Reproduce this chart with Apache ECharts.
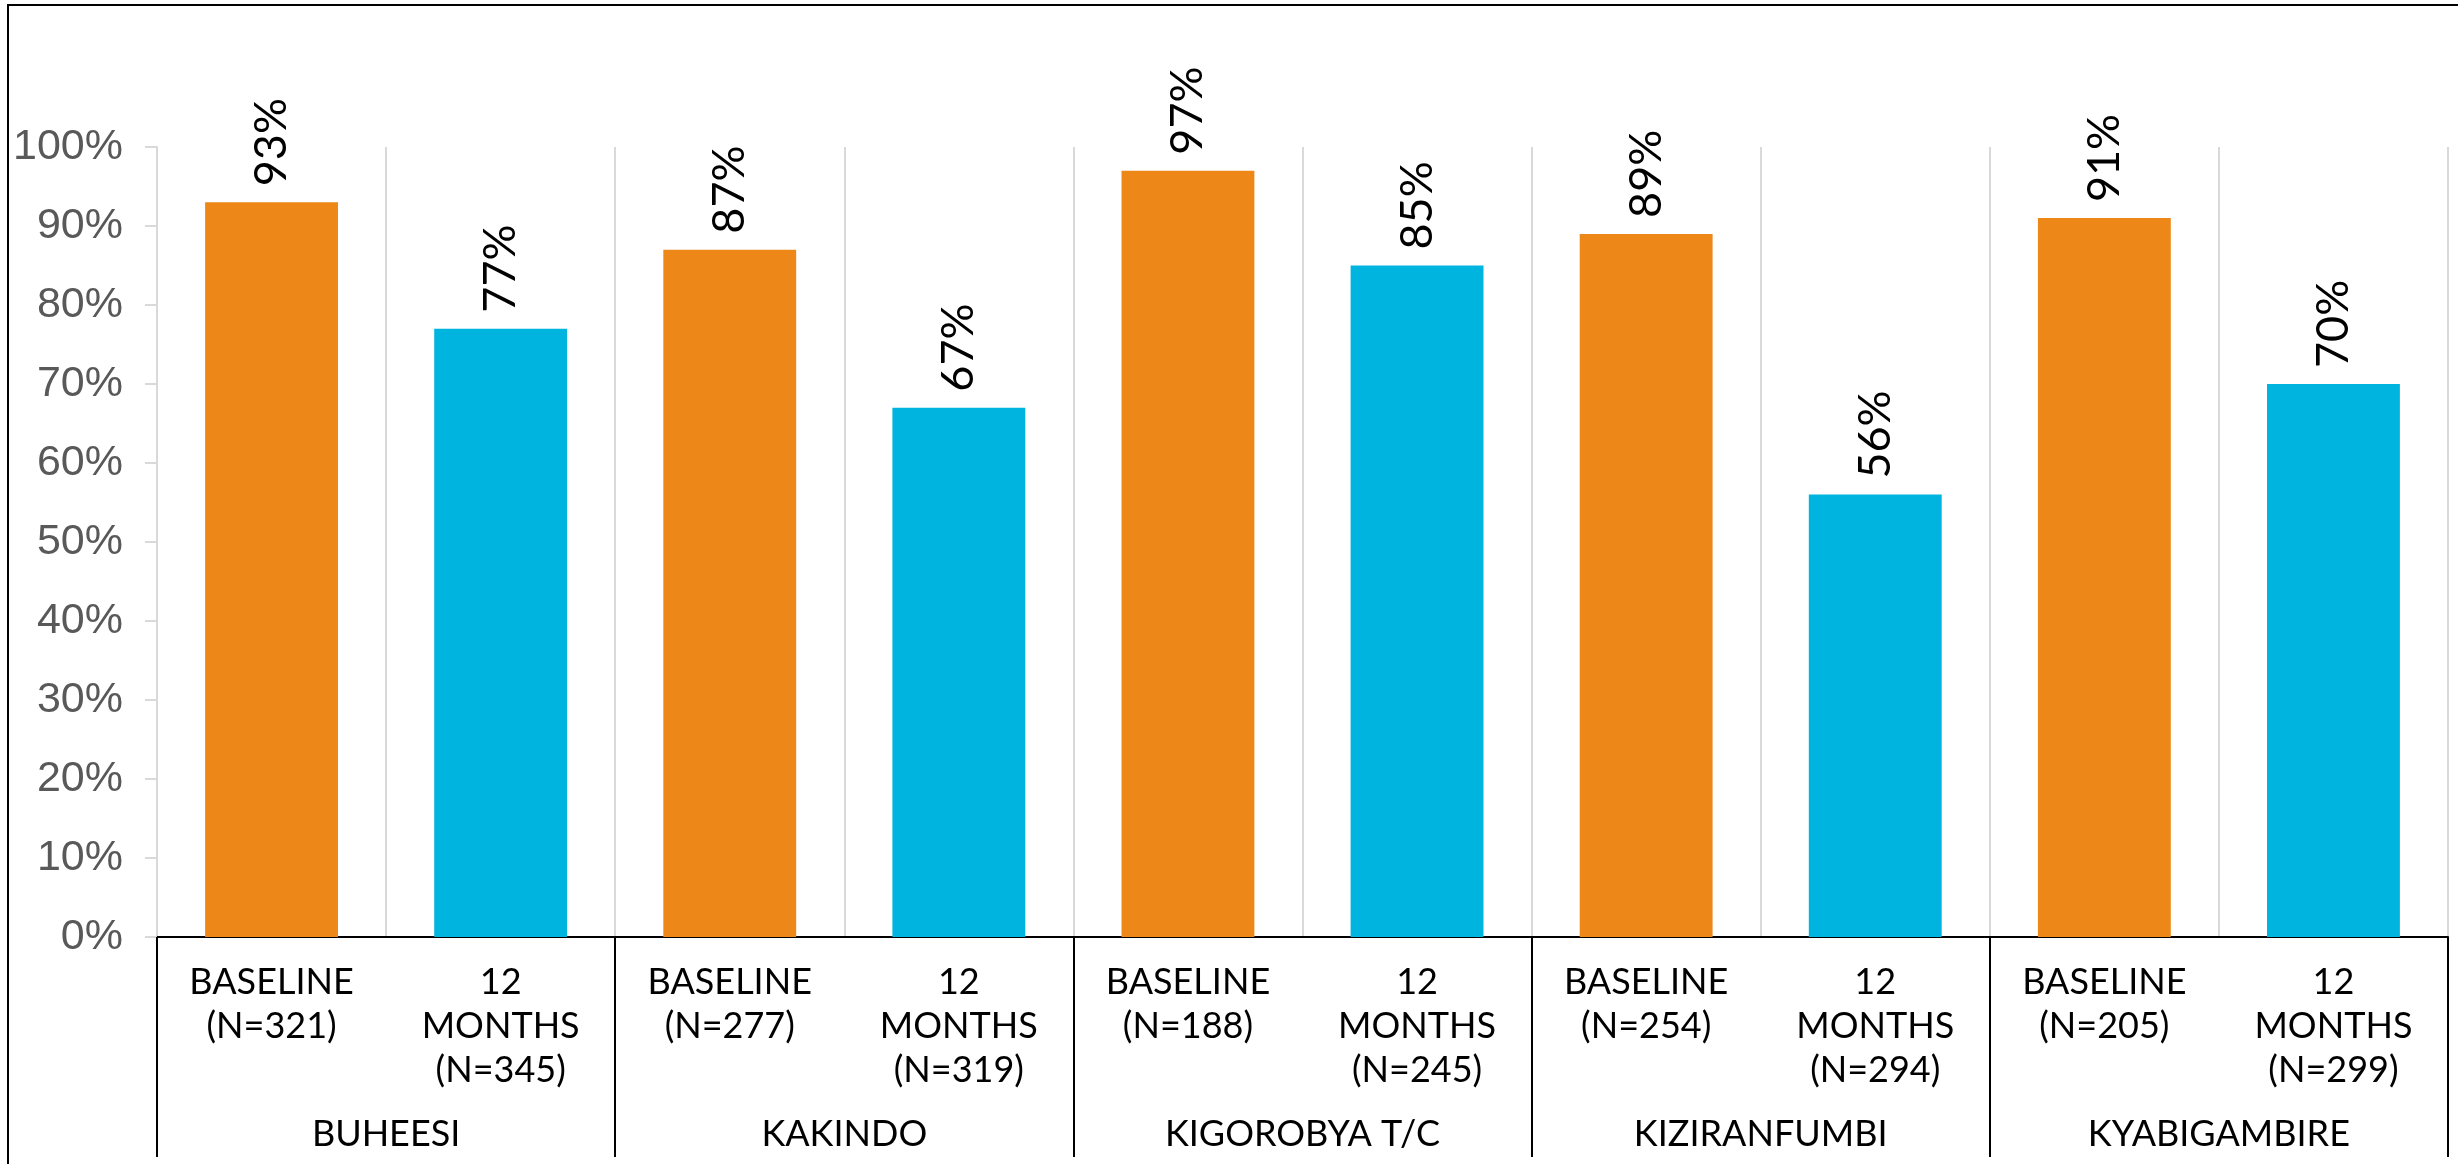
<!DOCTYPE html>
<html>
<head>
<meta charset="utf-8">
<script src="https://cdn.jsdelivr.net/npm/echarts@6/dist/echarts.min.js"></script>
<style>
  html, body { margin: 0; padding: 0; background: #fff; }
  #chart { width: 2458px; height: 1164px; }
</style>
</head>
<body>
<div id="chart"></div>
<script>
// Sites and time points
const sites = ['BUHEESI', 'KAKINDO', 'KIGOROBYA T/C', 'KIZIRANFUMBI', 'KYABIGAMBIRE'];
const periodLabels = [
  'BASELINE\n(N=321)', '12\nMONTHS\n(N=345)',
  'BASELINE\n(N=277)', '12\nMONTHS\n(N=319)',
  'BASELINE\n(N=188)', '12\nMONTHS\n(N=245)',
  'BASELINE\n(N=254)', '12\nMONTHS\n(N=294)',
  'BASELINE\n(N=205)', '12\nMONTHS\n(N=299)'
];
// Percentages per site: baseline and 12 months
const baselineValues = [93, 87, 97, 89, 91];
const monthsValues = [77, 67, 85, 56, 70];
const yTicks = [0, 10, 20, 30, 40, 50, 60, 70, 80, 90, 100];

const ORANGE = '#ED8818';
const BLUE = '#00B4E0';
const labelFont = "'Lato', 'Open Sans', sans-serif";

// One bar per sub-category, coloured by time point
const barData = [];
sites.forEach((s, i) => {
  barData.push({ value: baselineValues[i], itemStyle: { color: ORANGE } });
  barData.push({ value: monthsValues[i], itemStyle: { color: BLUE } });
});

const chart = echarts.init(document.getElementById('chart'), null, { renderer: 'canvas' });
chart.setOption({
  animation: false,
  backgroundColor: '#ffffff',
  grid: { left: 157, right: 10, top: 147, bottom: 227, containLabel: false },
  graphic: [{
    type: 'rect',
    shape: { x: 8, y: 5, width: 2470, height: 1180 },
    style: { fill: 'none', stroke: '#000', lineWidth: 2 },
    silent: true,
    z: -10
  }],
  xAxis: [
    {
      type: 'category',
      data: periodLabels,
      position: 'bottom',
      axisLine: { show: true, lineStyle: { color: '#000', width: 2 } },
      axisTick: { show: false },
      splitLine: { show: true, interval: 0, lineStyle: { color: '#d9d9d9', width: 2 } },
      axisLabel: {
        interval: 0,
        margin: 23,
        color: '#000',
        fontFamily: labelFont,
        fontSize: 36,
        lineHeight: 44,
        verticalAlign: 'top',
        align: 'center'
      }
    },
    {
      type: 'category',
      data: sites,
      position: 'bottom',
      axisLine: { show: false },
      axisTick: { show: true, interval: 0, length: 220, lineStyle: { color: '#000', width: 2 } },
      splitLine: { show: false },
      axisLabel: {
        interval: 0,
        margin: 179,
        color: '#000',
        fontFamily: labelFont,
        fontSize: 36,
        verticalAlign: 'top'
      }
    }
  ],
  yAxis: {
    type: 'value',
    min: 0,
    max: 100,
    interval: 10,
    axisLine: { show: true, lineStyle: { color: '#d9d9d9', width: 2 } },
    axisTick: { show: true, length: 12, lineStyle: { color: '#d9d9d9', width: 2 } },
    splitLine: { show: false },
    axisLabel: {
      formatter: '{value}%',
      color: '#595959',
      fontFamily: 'Arial, Liberation Sans, sans-serif',
      fontSize: 43,
      margin: 34
    }
  },
  series: [{
    type: 'bar',
    xAxisIndex: 0,
    data: barData,
    barWidth: '58%',
    label: {
      show: true,
      position: 'top',
      rotate: 90,
      align: 'left',
      verticalAlign: 'middle',
      distance: 16,
      formatter: '{c}%',
      color: '#000',
      fontFamily: labelFont,
      fontSize: 45
    }
  }]
});
</script>
</body>
</html>
